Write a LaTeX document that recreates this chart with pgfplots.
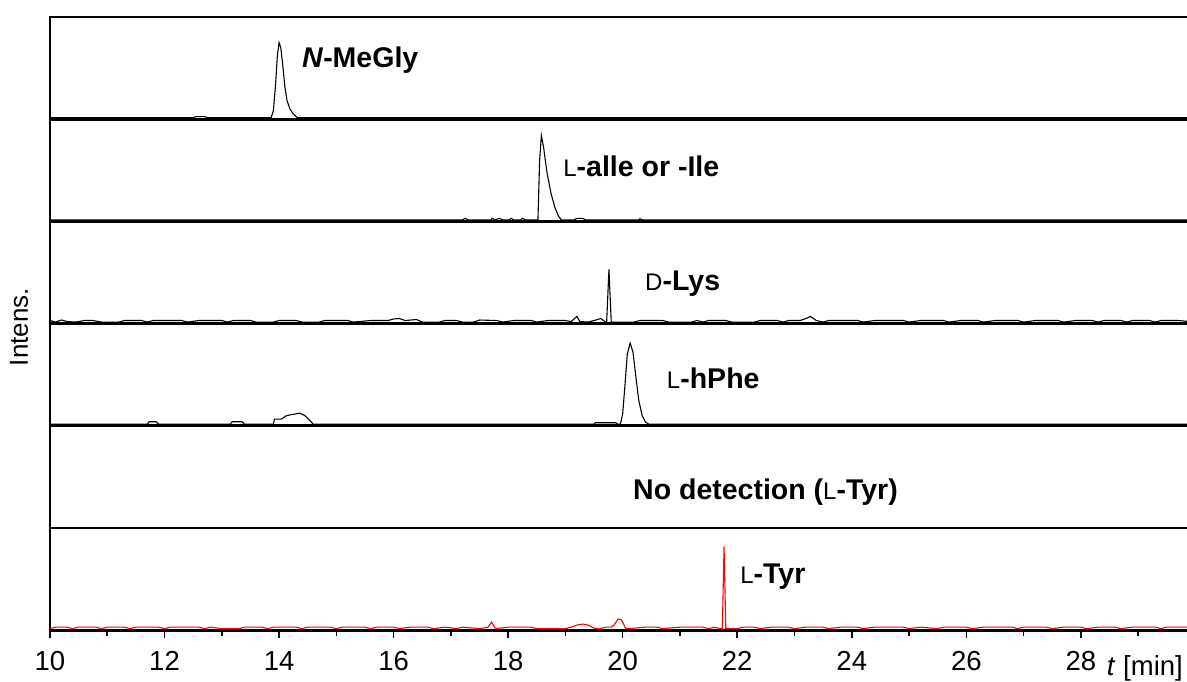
\documentclass[border=0pt]{standalone}
\usepackage{pgfplots}
\pgfplotsset{compat=1.18}
\usepackage{fontspec}
\setmainfont{Liberation Sans}
\newcommand\scL{{\fontsize{24}{24}\selectfont\mdseries L}}
\newcommand\scD{{\fontsize{24}{24}\selectfont\mdseries D}}
\newcommand\panellab{\fontsize{28.5}{32}\selectfont\bfseries}
\pgfplotsset{panel/.style={
  scale only axis, width=1150pt, height=102.2pt,
  xmin=10, xmax=30.08, ymin=0, ymax=100,
  axis line style={line width=2.9pt, black},
  ytick=\empty, xtick=\empty,
  anchor=north west,
}}
\begin{document}
\begin{tikzpicture}
\useasboundingbox (-50pt,17pt) rectangle (1137pt,-665pt);
% panel 1
\begin{axis}[panel, at={(0pt,0pt)}]
\addplot[black, line width=1.1pt] coordinates {
(10,1.5) (12.5,1.5) (12.55,2.5) (12.7,2.5) (12.75,1.5) (13.86,1.5) (13.9,8) (13.94,35) (13.97,62) (14.0,75) (14.03,70) (14.07,50) (14.1,32) (14.14,18) (14.19,10) (14.25,5) (14.32,1.5) (30,1.5)};
\node[anchor=west, inner sep=0pt] at (axis cs:14.40,58) {\panellab\textit{N}-MeGly};
\end{axis}
% panel 2
\begin{axis}[panel, at={(0pt,-102.2pt)}]
\addplot[black, line width=1.1pt] coordinates {
(10,1.5) (17.2,1.5) (17.25,3) (17.3,1.5) (17.7,1.5) (17.72,3) (17.77,1.5) (17.85,3) (17.9,1.5) (18.02,1.5) (18.05,3) (18.1,1.5) (18.22,1.5) (18.25,3) (18.3,1.5)
(18.52,1.5) (18.55,60) (18.58,84) (18.62,72) (18.68,47) (18.75,27) (18.82,13) (18.88,5) (18.93,1.5)
(19.15,1.5) (19.2,3) (19.3,3) (19.35,1.5) (20.28,1.5) (20.3,2.5) (20.35,1.5) (30,1.5)};
\node[anchor=west, inner sep=0pt] at (axis cs:18.96,54) {\panellab\scL-alle or -Ile};
\end{axis}
% panel 3
\begin{axis}[panel, at={(0pt,-204.4pt)}]
\addplot[black, line width=1.1pt] coordinates {
(10.0,3) (10.1,1.5) (10.2,3.5) (10.3,2) (10.45,1.5) (10.6,3) (10.75,3) (10.9,1.5) (11.2,1.5) (11.3,3) (11.6,3) (11.7,1.5) (11.8,3) (12.3,3) (12.4,1.5) (12.6,3) (13.0,3) (13.1,1.5) (13.2,3) (13.5,3) (13.6,1.5) (13.9,1.5) (14.0,3) (14.3,3) (14.4,1.5) (14.7,1.5) (14.8,3) (15.2,3) (15.3,1.5) (15.6,3) (15.9,3) (16.0,4.5) (16.1,5) (16.2,3) (16.4,4) (16.5,1.5) (16.8,1.5) (16.9,3) (17.1,3) (17.2,1.5) (17.4,1.5) (17.5,3.5) (17.8,3) (17.9,1.5) (18.1,3) (18.4,3) (18.5,1.5) (18.7,3) (19.0,3) (19.1,2) (19.2,7) (19.25,2) (19.4,1.5) (19.5,3) (19.62,5) (19.7,1.5) (19.72,1.5) (19.76,53) (19.8,1.5) (19.85,1.5) (20.2,1.5) (20.3,3) (20.7,3) (20.8,1.5) (21.2,1.5) (21.3,3) (21.4,1.5) (21.5,3) (21.8,3) (21.9,1.5) (22.3,1.5) (22.4,3) (22.7,3) (22.8,1.5) (22.9,3) (23.1,3) (23.2,5) (23.28,7) (23.38,3) (23.5,1.5) (23.6,3) (24.1,3) (24.2,1.5) (24.4,3) (24.9,3) (25.0,1.5) (25.2,3) (25.6,3) (25.7,1.5) (25.9,3) (26.2,3) (26.3,1.5) (26.5,3) (26.9,3) (27.0,1.5) (27.2,3) (27.6,3) (27.7,1.5) (27.9,3) (28.2,3) (28.3,1.5) (28.4,3) (28.7,3) (28.8,1.5) (28.9,3) (29.2,3) (29.3,1.5) (29.4,3) (29.7,3) (30,1.5)};
\node[anchor=west, inner sep=0pt] at (axis cs:20.39,39) {\panellab\scD-Lys};
\end{axis}
% panel 4
\begin{axis}[panel, at={(0pt,-306.6pt)}]
\addplot[black, line width=1.1pt] coordinates {
(10,1.5) (11.7,1.5) (11.73,4) (11.85,4) (11.9,1.5) (13.15,1.5) (13.18,4) (13.35,4) (13.4,1.5)
(13.9,1.5) (13.92,6.5) (14.04,6.5) (14.13,10) (14.36,12.4) (14.45,10) (14.54,5) (14.6,1.5)
(19.5,1.5) (19.52,3) (19.88,3) (19.92,1.5) (19.96,1.5) (20.0,12) (20.04,40) (20.08,70) (20.13,81) (20.18,72) (20.23,48) (20.28,25) (20.34,10) (20.4,3.5) (20.46,1.5) (30,1.5)};
\node[anchor=west, inner sep=0pt] at (axis cs:20.77,46) {\panellab\scL-hPhe};
\end{axis}
% panel 5
\begin{axis}[panel, at={(0pt,-408.8pt)}]
\addplot[draw=none] coordinates {(10,0) (30,0)};
\node[anchor=west, inner sep=0pt] at (axis cs:20.18,35) {\panellab No detection (\scL-Tyr)};
\end{axis}
% panel 6
\begin{axis}[panel, at={(0pt,-511.0pt)},
  xtick={10,12,...,28}, minor xtick={11,13,...,29},
  xtick pos=bottom, tick align=outside,
  major tick length=8pt, minor tick length=6pt,
  tick style={black, line width=1.6pt},
  xticklabel style={font=\fontsize{27.5}{27.5}\selectfont, yshift=-10pt},
  /pgf/number format/assume math mode=true,
]
\addplot[red, line width=1.1pt] coordinates {
(10.0,1.5) (10.1,3) (10.3,3) (10.4,1.5) (10.5,3) (10.8,3) (10.9,1.5) (11.0,3) (11.3,3) (11.4,1.5) (11.5,3) (11.9,3) (12.0,1.5) (12.1,3) (12.6,3) (12.7,1.5) (12.8,3) (13.0,1.5) (13.3,1.5) (13.4,3) (13.7,3) (13.8,1.5) (13.9,3) (14.3,3) (14.4,1.5) (14.5,3) (14.9,3) (15.0,1.5) (15.1,3) (15.5,3) (15.6,1.5) (15.7,3) (16.0,3) (16.1,1.5) (16.3,3) (16.6,3) (16.7,1.5) (16.9,3) (17.1,1.5) (17.2,3) (17.5,1.5) (17.65,3) (17.71,8) (17.78,1.5) (18.0,3) (18.4,3) (18.5,1.5) (19.0,1.5) (19.1,3) (19.2,5) (19.3,6) (19.4,5) (19.5,2) (19.6,1.5) (19.7,3) (19.8,3) (19.85,5) (19.92,11) (19.98,10) (20.05,2) (20.1,1.5) (20.4,3) (20.6,3) (20.7,1.5) (21.0,3) (21.4,3) (21.5,1.5) (21.6,3) (21.7,1.5) (21.74,1.5) (21.77,82) (21.8,1.5) (22.0,1.5) (22.1,3) (22.3,3) (22.4,1.5) (22.6,3) (22.9,3) (23.0,1.5) (23.2,3) (23.5,3) (23.6,1.5) (23.8,3) (24.1,3) (24.2,1.5) (24.4,3) (24.9,3) (25.0,1.5) (25.2,3) (25.5,1.5) (25.6,3) (26.0,3) (26.1,1.5) (26.3,3) (26.8,3) (26.9,1.5) (27.0,3) (27.4,3) (27.5,1.5) (27.7,3) (28.0,3) (28.1,1.5) (28.3,3) (28.6,3) (28.7,1.5) (28.9,3) (29.3,3) (29.4,1.5) (29.5,3) (29.9,3)};
\node[anchor=west, inner sep=0pt] at (axis cs:22.05,52) {\panellab\scL-Tyr};
\end{axis}
\node[anchor=base east, inner sep=0pt, font=\fontsize{27.5}{27.5}\selectfont] at (1133pt,-658pt) {\textit{t} [min]};
\node[rotate=90, font=\fontsize{26}{26}\selectfont] at (-31pt,-310pt) {Intens.};
\end{tikzpicture}
\end{document}
